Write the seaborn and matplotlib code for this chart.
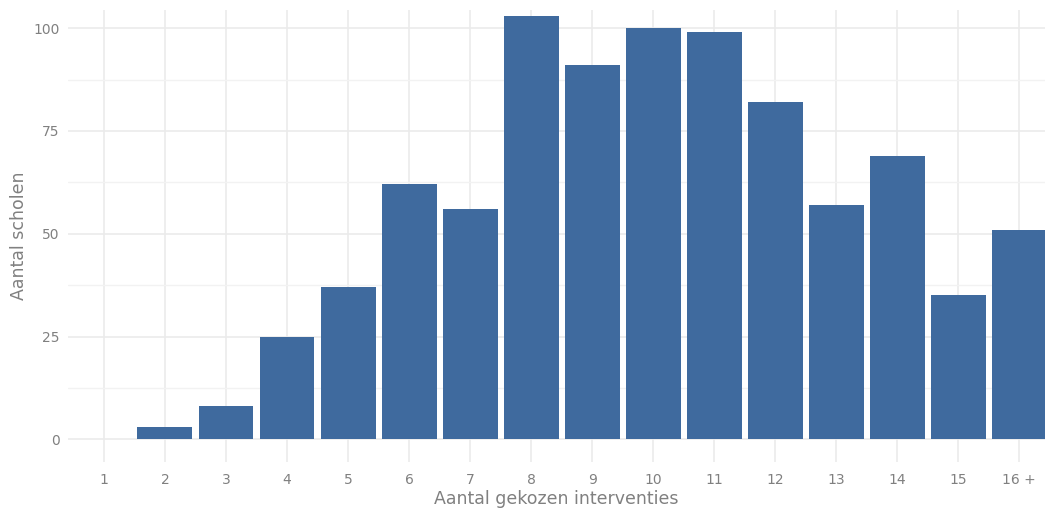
import numpy as np
import pandas as pd
import matplotlib
matplotlib.use("Agg")
import matplotlib.pyplot as plt
import seaborn as sns

# data
categorieen = ['1', '2', '3', '4', '5', '6', '7', '8', '9', '10', '11', '12', '13', '14', '15', '16 +']
aantal = [0, 3, 8, 25, 37, 62, 56, 103, 91, 100, 99, 82, 57, 69, 35, 51]
y_ticks = [0, 25, 50, 75, 100]

df = pd.DataFrame({'interventies': categorieen, 'scholen': aantal})

sns.set_theme(style='white')
plt.rcParams['font.family'] = ['DejaVu Sans']

fig = plt.figure(figsize=(10.45, 5.08), dpi=100)
ax = fig.add_axes([0.065, 0.09, 0.935, 0.89])

sns.barplot(data=df, x='interventies', y='scholen', order=categorieen,
            color='#3f6a9e', saturation=1, width=0.9, ax=ax, zorder=3,
            linewidth=0)

ax.set_xlim(-0.59, 15.42)
ax.set_ylim(-5.6, 104.4)
ax.set_yticks(y_ticks)
ax.set_yticks([12.5, 37.5, 62.5, 87.5], minor=True)

ax.grid(True, which='major', color='#ebebeb', linewidth=1.2, zorder=0)
ax.grid(True, which='minor', axis='y', color='#f2f2f2', linewidth=1.0, zorder=0)
ax.set_axisbelow(True)
for s in ax.spines.values():
    s.set_visible(False)
ax.tick_params(axis='both', which='both', length=0, colors='#808080', labelsize=10)
ax.tick_params(axis='x', pad=8)
ax.tick_params(axis='y', pad=6)

ax.set_xlabel('Aantal gekozen interventies', color='#808080', fontsize=12.5, labelpad=2)
ax.set_ylabel('Aantal scholen', color='#808080', fontsize=12.5, labelpad=4)

fig.savefig('out.png', dpi=100)
